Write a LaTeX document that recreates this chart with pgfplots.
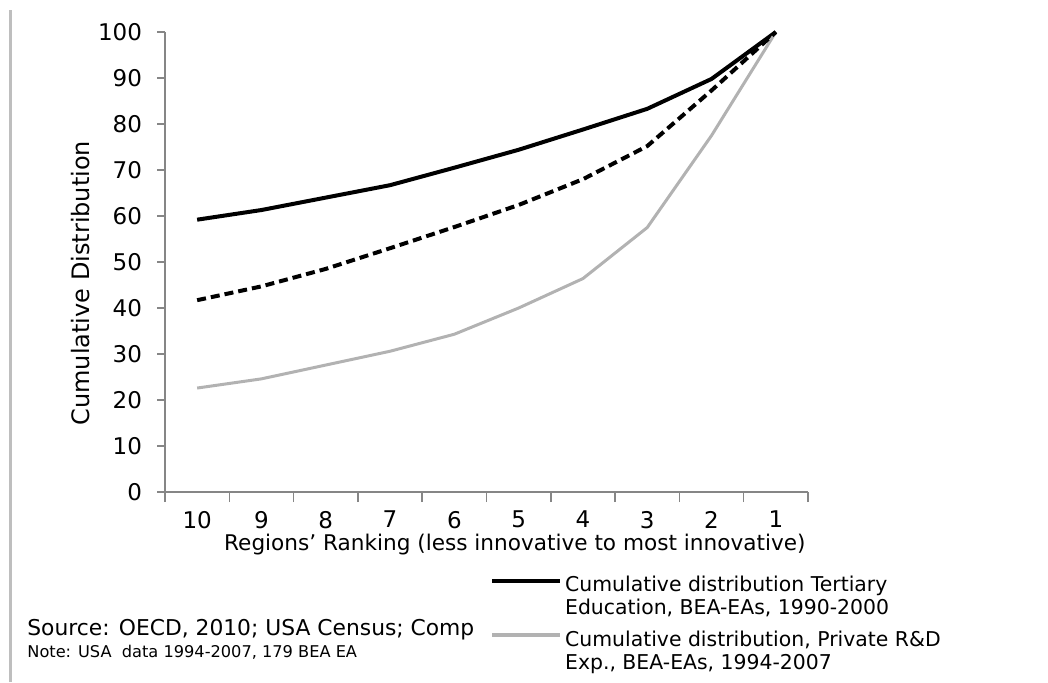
\documentclass[border=0pt]{standalone}
\usepackage{fontspec}
\setmainfont{DejaVu Sans}
\usepackage{pgfplots}
\pgfplotsset{compat=1.18}
\definecolor{axisgray}{RGB}{134,134,134}
\definecolor{linegray}{RGB}{178,178,178}
\definecolor{framegray}{RGB}{190,190,190}
\begin{document}
\begin{tikzpicture}[x=1pt,y=1pt]
\useasboundingbox (0,0) rectangle (524,341);
\draw[framegray, line width=1.5pt] (5,0) -- (5,336);
\begin{axis}[
  at={(82.5pt,95pt)}, anchor=south west,
  scale only axis, width=321.5pt, height=230pt,
  xmin=0.5, xmax=10.5, ymin=0, ymax=100,
  axis x line=bottom, axis y line=left,
  axis line style={-, axisgray, line width=0.75pt},
  tick align=outside,
  major tick length=4pt, minor tick length=5pt,
  tick style={axisgray, line width=0.75pt},
  every major x tick/.append style={draw=none},
  xtick={1,...,10}, xticklabels={10,9,8,7,6,5,4,3,2,1},
  minor xtick={0.5,1.5,...,10.5},
  ytick={0,10,...,100},
  /pgf/number format/assume math mode=true,
  tick label style={font=\fontsize{11.5}{13}\selectfont, black},
  yticklabel style={xshift=-4pt},
  xticklabel style={yshift=-2pt},
  xlabel={Regions' Ranking (less innovative to most innovative)},
  xlabel style={at={(axis description cs:0.544,-0.115)}, anchor=center, font=\fontsize{10.8}{12}\selectfont},
  ylabel={Cumulative Distribution},
  ylabel style={at={(axis description cs:-0.132,0.454)}, anchor=center, rotate=0, font=\fontsize{12}{14}\selectfont},
  legend style={at={(axis description cs:0.505,-0.176)}, anchor=north west, draw=none, fill=none,
    inner sep=0pt, row sep=3.5pt, nodes={inner sep=1.5pt},
    cells={anchor=west, align=left},
    font=\fontsize{10.2}{11.5}\selectfont},
  legend image code/.code={\draw[#1, line width=2pt] (0pt,8.25pt) -- (34pt,8.25pt);},
  clip=false,
]
\addplot[black, line width=2pt] coordinates {(1,59.2) (2,61.3) (3,64.0) (4,66.7) (5,70.5) (6,74.4) (7,78.8) (8,83.3) (9,89.8) (10,100)};
\addlegendentry{Cumulative distribution Tertiary\\Education, BEA-EAs, 1990-2000}
\addplot[linegray, line width=1.5pt] coordinates {(1,22.6) (2,24.6) (3,27.6) (4,30.6) (5,34.3) (6,40.0) (7,46.4) (8,57.5) (9,77.5) (10,100)};
\addlegendentry{Cumulative distribution, Private R\&D\\Exp., BEA-EAs, 1994-2007}
\addplot[black, line width=2pt, dash pattern=on 4.5pt off 2.5pt, forget plot] coordinates {(1,41.7) (2,44.7) (3,48.5) (4,53.0) (5,57.6) (6,62.4) (7,68.0) (8,75.2) (9,87.3) (10,100)};
\end{axis}
\node[anchor=base west, font=\fontsize{10.9}{12}\selectfont, inner sep=0pt] at (13.5,23.5) {Source: OECD, 2010; USA Census; Comp};
\node[anchor=base west, font=\fontsize{8.1}{9}\selectfont, inner sep=0pt] at (13.5,12.5) {Note: USA\ \ data 1994-2007, 179 BEA EA};
\end{tikzpicture}
\end{document}
